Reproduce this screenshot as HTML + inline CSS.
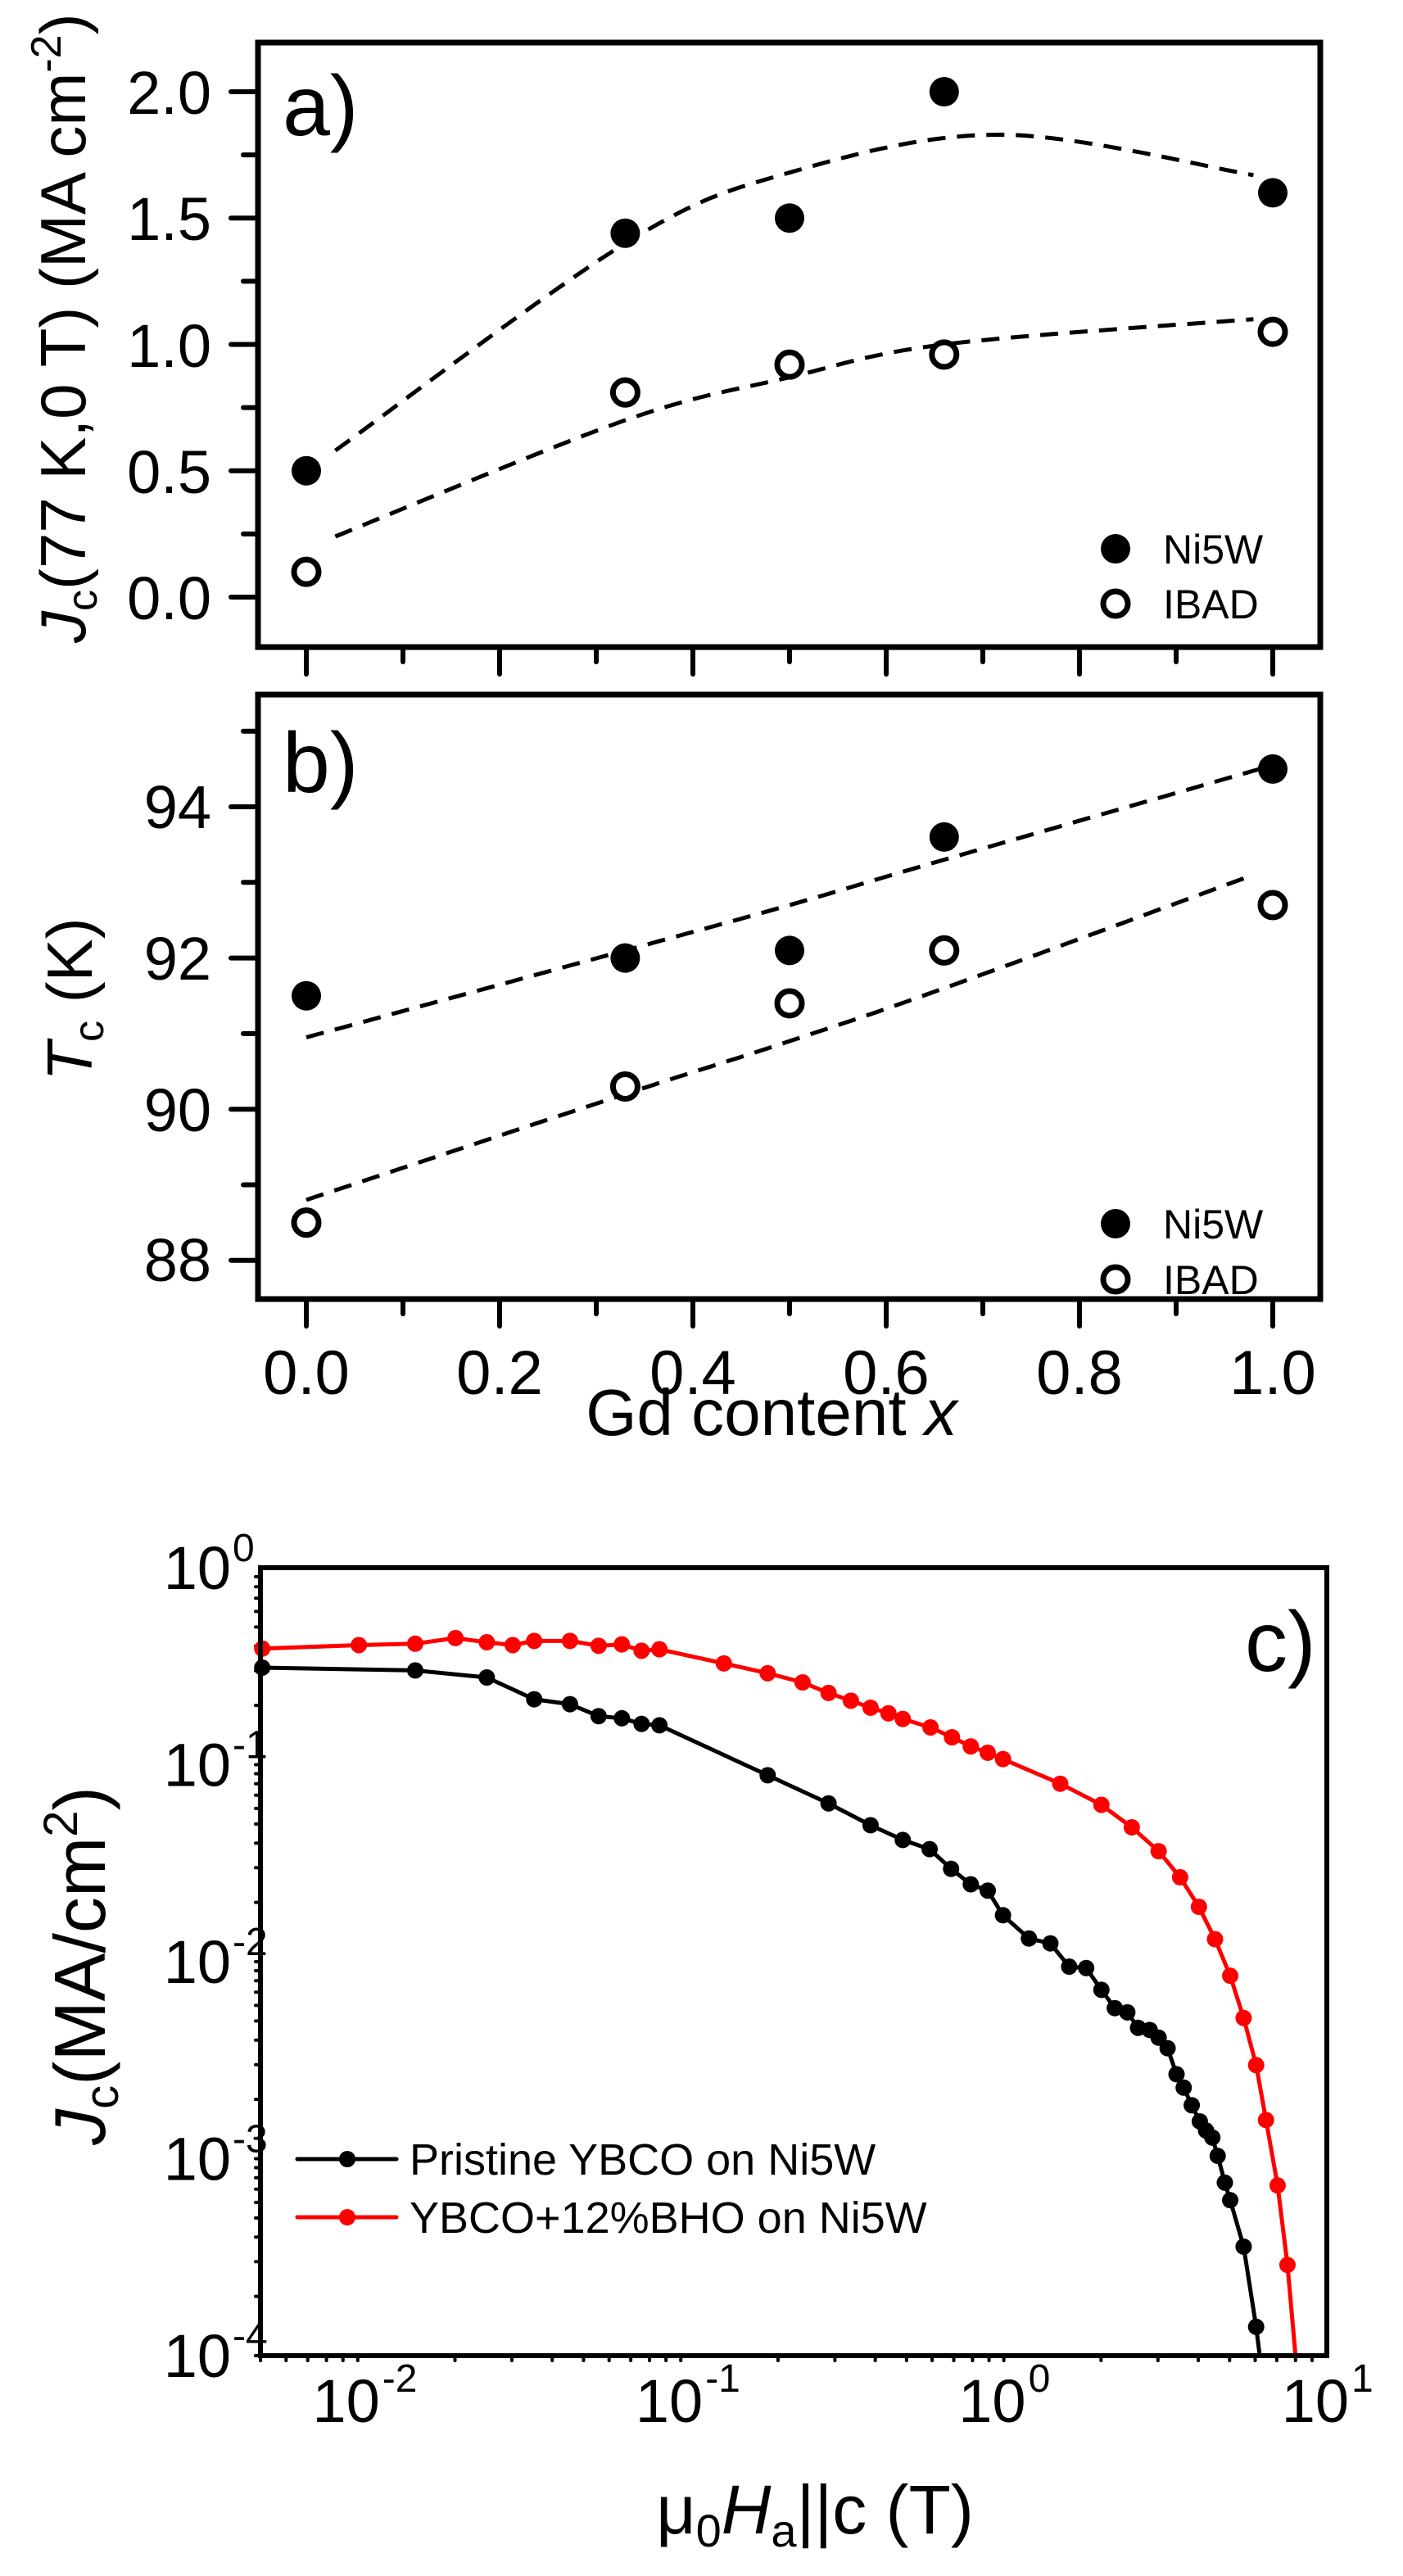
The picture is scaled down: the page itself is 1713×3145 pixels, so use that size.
<!DOCTYPE html>
<html><head><meta charset="utf-8"><style>
html,body{margin:0;padding:0;background:#fff}
svg{display:block}
text{font-family:"Liberation Sans",sans-serif;fill:#000}
</style></head><body>
<svg id="s" width="1713" height="3145" viewBox="0 0 1713 3145" xmlns="http://www.w3.org/2000/svg">
<rect width="1713" height="3145" fill="#fff"/>
<g id="g"></g>
<text x="345" y="165" font-size="104">a)</text>
<g font-size="74" text-anchor="end">
<text x="258" y="139">2.0</text><text x="258" y="293">1.5</text><text x="258" y="448">1.0</text><text x="258" y="602">0.5</text><text x="258" y="756">0.0</text>
</g>
<text transform="translate(104,785) rotate(-90)" font-size="78"><tspan font-style="italic">J</tspan><tspan font-size="52" dy="14">c</tspan><tspan dy="-14">(77 K,0 T) (MA cm</tspan><tspan font-size="52" dy="-30">-2</tspan><tspan dy="30">)</tspan></text>
<text x="1420" y="688" font-size="50">Ni5W</text>
<text x="1420" y="755" font-size="50">IBAD</text>
<text x="345" y="967" font-size="104">b)</text>
<g font-size="74" text-anchor="end">
<text x="258" y="1011">94</text><text x="258" y="1196">92</text><text x="258" y="1381">90</text><text x="258" y="1564">88</text>
</g>
<text transform="translate(112,1220) rotate(-90)" font-size="78" text-anchor="middle"><tspan font-style="italic">T</tspan><tspan font-size="52" dy="14">c</tspan><tspan dy="-14"> (K)</tspan></text>
<text x="1420" y="1512" font-size="50">Ni5W</text>
<text x="1420" y="1580" font-size="50">IBAD</text>
<g font-size="76" text-anchor="middle">
<text x="374" y="1702">0.0</text><text x="610" y="1702">0.2</text><text x="846" y="1702">0.4</text><text x="1082" y="1702">0.6</text><text x="1318" y="1702">0.8</text><text x="1554" y="1702">1.0</text>
</g>
<text x="942" y="1752" font-size="80" text-anchor="middle">Gd content <tspan font-style="italic">x</tspan></text>
<text x="1520" y="2040" font-size="104">c)</text>
<text transform="translate(128,2400) rotate(-90)" font-size="88" text-anchor="middle"><tspan font-style="italic">J</tspan><tspan font-size="58" dy="16">c</tspan><tspan dy="-16">(MA/cm</tspan><tspan font-size="58" dy="-34">2</tspan><tspan dy="34">)</tspan></text>
<text x="995" y="3093" font-size="84" text-anchor="middle">μ<tspan font-size="56" dy="16">0</tspan><tspan dy="-16" font-style="italic">H</tspan><tspan font-size="56" dy="16">a</tspan><tspan dy="-16">||c (T)</tspan></text>
<text x="500" y="2655" font-size="54">Pristine YBCO on Ni5W</text>
<text x="500" y="2726" font-size="54">YBCO+12%BHO on Ni5W</text>
</svg>
<script>
var g=document.getElementById('g'),NS='http://www.w3.org/2000/svg';
function el(t,a){var e=document.createElementNS(NS,t);for(var k in a)e.setAttribute(k,a[k]);g.appendChild(e);return e;}
function line(x1,y1,x2,y2,w,c){el('line',{x1:x1,y1:y1,x2:x2,y2:y2,stroke:c||'#000','stroke-width':w||5,'stroke-linecap':'round'});}
var XA=function(v){return 374+1180*v;};
var YA=function(v){return 729-308.5*v;};
var YB=function(v){return 985+(94-v)*92.3;};
function frame(x1,y1,x2,y2){el('rect',{x:x1,y:y1,width:x2-x1,height:y2-y1,fill:'none',stroke:'#000','stroke-width':7});}
frame(315,52,1612,790);
frame(315,848,1612,1586);
for(var i=0;i<=10;i++){var x=XA(i/10),L=(i%2==0)?33:18;line(x,790,x,790+L,6);line(x,1586,x,1586+L,6);}
for(var i=0;i<=8;i++){var v=i*0.25,y=YA(v),L=(i%2==0)?33:18;line(315-L,y,315,y,6);}
for(var v=88;v<=95;v++){var y=YB(v),L=(v%2==0)?33:18;line(315-L,y,315,y,6);}
function spline(pts,fx,fy){var d='';var P=pts.map(function(p){return [fx(p[0]),fy(p[1])];});
 for(var i=0;i<P.length-1;i++){var p0=P[i-1]||P[i],p1=P[i],p2=P[i+1],p3=P[i+2]||P[i+1];
  for(var t=0;t<=1.0001;t+=0.05){var t2=t*t,t3=t2*t;
   var x=0.5*((2*p1[0])+(-p0[0]+p2[0])*t+(2*p0[0]-5*p1[0]+4*p2[0]-p3[0])*t2+(-p0[0]+3*p1[0]-3*p2[0]+p3[0])*t3);
   var y=0.5*((2*p1[1])+(-p0[1]+p2[1])*t+(2*p0[1]-5*p1[1]+4*p2[1]-p3[1])*t2+(-p0[1]+3*p1[1]-3*p2[1]+p3[1])*t3);
   d+=(d?'L':'M')+x.toFixed(1)+' '+y.toFixed(1);}}
 el('path',{d:d,fill:'none',stroke:'#000','stroke-width':5,'stroke-dasharray':'22 14'});}
spline([[0.03,0.58],[0.33,1.40],[0.5,1.68],[0.72,1.83],[0.98,1.67]],XA,YA);
spline([[0.03,0.24],[0.33,0.70],[0.5,0.87],[0.66,1.0],[0.98,1.10]],XA,YA);
spline([[0,90.95],[0.33,92.1],[0.5,92.7],[0.66,93.3],[1.0,94.55]],XA,YB);
spline([[0,88.8],[0.33,90.2],[0.5,90.9],[0.66,91.6],[0.98,93.1]],XA,YB);
function fill(x,y){el('circle',{cx:x,cy:y,r:18,fill:'#000'});}
function open(x,y){el('circle',{cx:x,cy:y,r:15,fill:'#fff',stroke:'#000','stroke-width':7});}
var xs=[0,0.33,0.5,0.66,1.0];
[0.5,1.44,1.5,2.0,1.6].forEach(function(v,i){fill(XA(xs[i]),YA(v));});
[0.1,0.81,0.92,0.96,1.05].forEach(function(v,i){open(XA(xs[i]),YA(v));});
[91.5,92.0,92.1,93.6,94.5].forEach(function(v,i){fill(XA(xs[i]),YB(v));});
[88.5,90.3,91.4,92.1,92.7].forEach(function(v,i){open(XA(xs[i]),YB(v));});
fill(1362,670);open(1362,737);fill(1362,1494);open(1362,1562);
var L=318,R=1620,T=1914,B=2876;
var XC=function(v){return R-394.4*(1-Math.log10(v));};
var YC=function(v){return T-240.5*Math.log10(v);};
for(var d=-4;d<0;d++){for(var m=1;m<10;m++){var y=YC(m*Math.pow(10,d));line(L-6,y,L,y,4);}}
for(var d=-3;d<1;d++){for(var m=1;m<10;m++){var v=m*Math.pow(10,d);if(v<0.005||v>10)continue;var x=XC(v);line(x,B,x,B+6,4);}}
function zmap(a){return a.map(function(p){return [L+(p[0]-290)*(1302/1192),T+(p[1]-133)*(962/1120)];});}
var blk=zmap([[292,275],[463,279],[543,289],[596,320],[636,327],[668,344],[694,347],[716,355],[736,357],[857,428],[925,468],[972,499],[1008,520],[1038,533],[1062,561],[1084,583],[1103,592],[1120,627],[1149,660],[1173,667],[1194,700],[1213,702],[1230,733],[1245,759],[1259,765],[1271,787],[1284,790],[1294,801],[1304,816],[1314,853],[1322,872],[1331,897],[1340,920],[1347,933],[1354,943],[1360,969],[1368,1007],[1374,1032],[1389,1098],[1403,1212],[1407,1253]]);
var red=zmap([[292,248],[400,243],[463,241],[508,233],[543,239],[572,243],[596,237],[636,237],[668,244],[694,242],[716,251],[736,249],[808,269],[857,283],[896,296],[925,311],[950,322],[972,332],[992,340],[1008,348],[1039,360],[1063,374],[1084,387],[1103,396],[1120,405],[1184,440],[1230,470],[1264,502],[1294,536],[1318,573],[1339,615],[1357,661],[1374,713],[1389,773],[1403,840],[1414,918],[1427,1011],[1438,1124],[1447,1253]]);
function series(P,c){el('polyline',{points:P.map(function(p){return p.join(',');}).join(' '),fill:'none',stroke:c,'stroke-width':5,'stroke-linejoin':'round'});
 P.forEach(function(p,i){if(i<P.length-1)el('circle',{cx:p[0],cy:p[1],r:10,fill:c});});}
series(red,'#ff0000');series(blk,'#000');
el('rect',{x:L,y:T,width:R-L,height:B-T,fill:'none',stroke:'#000','stroke-width':6});
line(363,2636,484,2636,5,'#000');el('circle',{cx:424,cy:2636,r:10,fill:'#000'});
line(363,2707,484,2707,5,'#f00');el('circle',{cx:424,cy:2707,r:10,fill:'#f00'});
[[0,'0'],[-1,'-1'],[-2,'-2'],[-3,'-3'],[-4,'-4']].forEach(function(a){var y=YC(Math.pow(10,a[0]));var t=el('text',{x:282,y:y+26,'font-size':74,'text-anchor':'end'});t.textContent='10';
 var s=el('text',{x:284,y:y-8,'font-size':48});s.textContent=a[1];});
[[-2,'-2'],[-1,'-1'],[0,'0'],[1,'1']].forEach(function(a){var x=XC(Math.pow(10,a[0]));var t=el('text',{x:x+27,y:2957,'font-size':74,'text-anchor':'end'});t.textContent='10';
 var s=el('text',{x:x+30,y:2920,'font-size':48});s.textContent=a[1];});
</script>
</body></html>
